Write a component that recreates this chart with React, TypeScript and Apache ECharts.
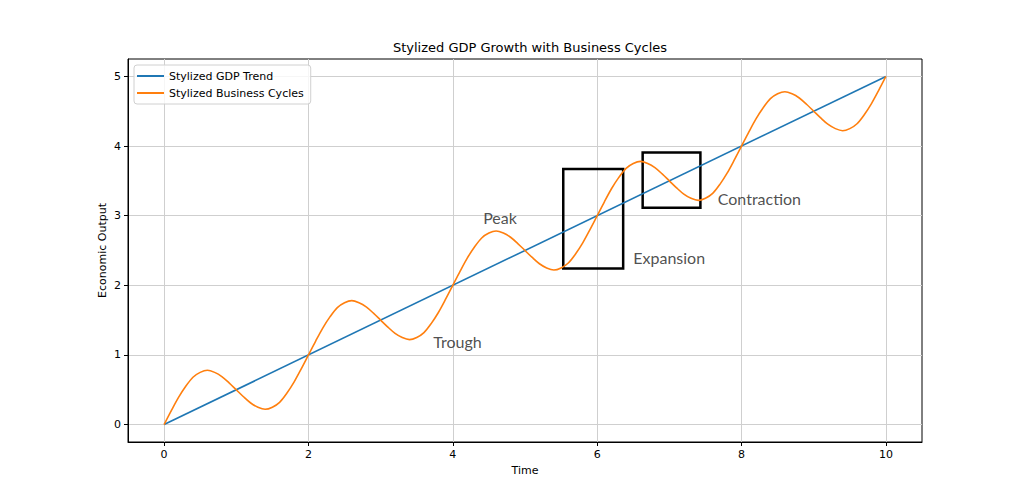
import React, { useEffect, useRef } from "react";
import * as echarts from "echarts";

const trendX = [0, 10];
const trendY = [0, 5];

const cycleX = [
  0.0, 0.1, 0.2, 0.3, 0.4, 0.5, 0.6, 0.7, 0.8, 0.9,
  1.0, 1.1, 1.2, 1.3, 1.4, 1.5, 1.6, 1.7, 1.8, 1.9,
  2.0, 2.1, 2.2, 2.3, 2.4, 2.5, 2.6, 2.7, 2.8, 2.9,
  3.0, 3.1, 3.2, 3.3, 3.4, 3.5, 3.6, 3.7, 3.8, 3.9,
  4.0, 4.1, 4.2, 4.3, 4.4, 4.5, 4.6, 4.7, 4.8, 4.9,
  5.0, 5.1, 5.2, 5.3, 5.4, 5.5, 5.6, 5.7, 5.8, 5.9,
  6.0, 6.1, 6.2, 6.3, 6.4, 6.5, 6.6, 6.7, 6.8, 6.9,
  7.0, 7.1, 7.2, 7.3, 7.4, 7.5, 7.6, 7.7, 7.8, 7.9,
  8.0, 8.1, 8.2, 8.3, 8.4, 8.5, 8.6, 8.7, 8.8, 8.9,
  9.0, 9.1, 9.2, 9.3, 9.4, 9.5, 9.6, 9.7, 9.8, 9.9,
  10.0,
];
const cycleY = [
  0.0, 0.2, 0.39, 0.55, 0.68, 0.75, 0.78, 0.75, 0.69, 0.6,
  0.5, 0.4, 0.31, 0.25, 0.22, 0.25, 0.32, 0.45, 0.61, 0.8,
  1.0, 1.2, 1.39, 1.55, 1.68, 1.75, 1.78, 1.75, 1.69, 1.6,
  1.5, 1.4, 1.31, 1.25, 1.22, 1.25, 1.32, 1.45, 1.61, 1.8,
  2.0, 2.2, 2.39, 2.55, 2.68, 2.75, 2.78, 2.75, 2.69, 2.6,
  2.5, 2.4, 2.31, 2.25, 2.22, 2.25, 2.32, 2.45, 2.61, 2.8,
  3.0, 3.2, 3.39, 3.55, 3.68, 3.75, 3.78, 3.75, 3.69, 3.6,
  3.5, 3.4, 3.31, 3.25, 3.22, 3.25, 3.32, 3.45, 3.61, 3.8,
  4.0, 4.2, 4.39, 4.55, 4.68, 4.75, 4.78, 4.75, 4.69, 4.6,
  4.5, 4.4, 4.31, 4.25, 4.22, 4.25, 4.32, 4.45, 4.61, 4.8,
  5.0,
];

const xTicks = [0, 2, 4, 6, 8, 10];
const yTicks = [0, 1, 2, 3, 4, 5];

const annotationNames = ["Peak", "Trough", "Expansion", "Contraction"];
const annotationX = [4.42, 3.73, 6.5, 7.67];
const annotationY = [2.97, 1.19, 2.4, 3.24];

// boxes: corners [x0, y0] and [x1, y1]
const boxX0 = [5.53, 6.63];
const boxY0 = [3.67, 3.906];
const boxX1 = [6.36, 7.43];
const boxY1 = [2.24, 3.114];

const seriesNames = ["Stylized GDP Trend", "Stylized Business Cycles"];

export default function App() {
  const ref = useRef<HTMLDivElement>(null);
  useEffect(() => {
    if (!ref.current) return;
    const chart = echarts.init(ref.current, undefined, { renderer: "svg" });
    const font = "DejaVu Sans";
    const axisCommon = {
      axisLine: { show: true, onZero: false, lineStyle: { color: "#000", width: 1 } },
      axisTick: { show: true, inside: false, length: 4, lineStyle: { color: "#000", width: 1 } },
      splitLine: { show: true, lineStyle: { color: "#cfcfcf", width: 1 } },
    };
    chart.setOption({
      animation: false,
      backgroundColor: "#fff",
      textStyle: { fontFamily: font },
      title: {
        text: "Stylized GDP Growth with Business Cycles",
        left: 525,
        top: 36,
        textAlign: "center",
        textStyle: { fontFamily: font, fontSize: 13, fontWeight: "normal", color: "#000" },
      },
      legend: {
        data: seriesNames,
        orient: "vertical",
        left: 134,
        top: 65,
        padding: [4, 7, 4, 3],
        itemGap: 3,
        itemWidth: 27,
        itemHeight: 2,
        icon: "rect",
        borderColor: "#d0d0d0",
        borderWidth: 1,
        borderRadius: 3,
        backgroundColor: "rgba(255,255,255,0.8)",
        textStyle: { fontFamily: font, fontSize: 11, color: "#000", lineHeight: 14 },
      },
      grid: {
        left: 128,
        right: 102,
        top: 59,
        bottom: 54,
        show: true,
        borderColor: "#000",
        borderWidth: 1,
        backgroundColor: "transparent",
        outerBoundsMode: "none",
      },
      xAxis: {
        type: "value",
        min: -0.5,
        max: 10.5,
        name: "Time",
        nameLocation: "middle",
        nameGap: 22,
        nameTextStyle: { fontFamily: font, fontSize: 11, color: "#000" },
        ...axisCommon,
        axisTick: { ...axisCommon.axisTick, customValues: xTicks },
        axisLabel: { customValues: xTicks, margin: 7, fontFamily: font, fontSize: 11, color: "#000" },
      },
      yAxis: {
        type: "value",
        min: -0.25,
        max: 5.25,
        name: "Economic Output",
        nameLocation: "middle",
        nameRotate: 90,
        nameGap: 20,
        nameMoveOverlap: false,
        nameTextStyle: { fontFamily: font, fontSize: 11, color: "#000" },
        ...axisCommon,
        axisTick: { ...axisCommon.axisTick, customValues: yTicks },
        axisLabel: { customValues: yTicks, margin: 7, fontFamily: font, fontSize: 11, color: "#000" },
      },
      series: [
        {
          name: seriesNames[0],
          type: "line",
          symbol: "none",
          data: trendX.map((x, i) => [x, trendY[i]]),
          lineStyle: { color: "#1f77b4", width: 1.6 },
          itemStyle: { color: "#1f77b4" },
          z: 2,
        },
        {
          name: seriesNames[1],
          type: "line",
          symbol: "none",
          smooth: 0.3,
          data: cycleX.map((x, i) => [x, cycleY[i]]),
          lineStyle: { color: "#ff7f0e", width: 1.6 },
          itemStyle: { color: "#ff7f0e" },
          z: 3,
          markArea: {
            silent: true,
            itemStyle: { color: "rgba(0,0,0,0)", borderColor: "#000", borderWidth: 2.5 },
            label: { show: false },
            data: boxX0.map((x0, i) => [
              { coord: [x0, boxY0[i]] },
              { coord: [boxX1[i], boxY1[i]] },
            ]),
          },
        },
        {
          name: "annotations",
          type: "scatter",
          symbolSize: 0,
          silent: true,
          z: 5,
          data: annotationX.map((x, i) => ({ value: [x, annotationY[i]], name: annotationNames[i] })),
          label: {
            show: true,
            position: "right",
            distance: 0,
            formatter: (p: any) => p.name,
            fontFamily: "Lato",
            fontSize: 16,
            color: "#222",
          },
        },
      ],
    });
    return () => chart.dispose();
  }, []);
  return <div ref={ref} style={{ width: 1024, height: 496, position: "absolute", left: 0, top: 0 }} />;
}
